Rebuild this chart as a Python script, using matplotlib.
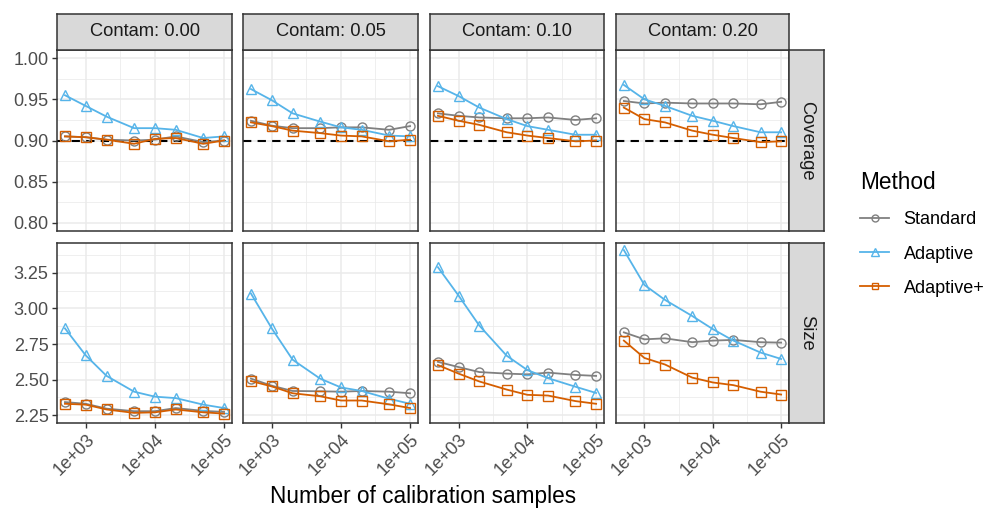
import matplotlib
matplotlib.use("Agg")
import matplotlib.pyplot as plt
from matplotlib.lines import Line2D
import numpy as np

plt.rcParams['font.family'] = ['Liberation Sans', 'DejaVu Sans']

n_samples = [500, 1000, 2000, 5000, 10000, 20000, 50000, 100000]
contam_labels = ['Contam: 0.00', 'Contam: 0.05', 'Contam: 0.10', 'Contam: 0.20']
row_labels = ['Coverage', 'Size']
methods = ['Standard', 'Adaptive', 'Adaptive+']

# coverage, one list per contamination level
cov_standard = [
    [0.905, 0.904, 0.901, 0.900, 0.901, 0.905, 0.898, 0.900],
    [0.924, 0.918, 0.915, 0.915, 0.916, 0.916, 0.913, 0.9175],
    [0.933, 0.930, 0.928, 0.927, 0.927, 0.928, 0.925, 0.927],
    [0.948, 0.945, 0.946, 0.945, 0.945, 0.945, 0.944, 0.947],
]
cov_adaptive = [
    [0.955, 0.942, 0.929, 0.915, 0.915, 0.913, 0.903, 0.905],
    [0.9625, 0.949, 0.933, 0.923, 0.916, 0.913, 0.906, 0.905],
    [0.966, 0.954, 0.940, 0.926, 0.9175, 0.913, 0.907, 0.907],
    [0.9675, 0.950, 0.942, 0.930, 0.924, 0.9175, 0.910, 0.910],
]
cov_adaptive_plus = [
    [0.905, 0.904, 0.901, 0.896, 0.902, 0.903, 0.896, 0.900],
    [0.922, 0.9175, 0.912, 0.909, 0.906, 0.905, 0.899, 0.901],
    [0.930, 0.924, 0.919, 0.910, 0.906, 0.903, 0.899, 0.900],
    [0.940, 0.926, 0.922, 0.912, 0.907, 0.903, 0.898, 0.899],
]

# set size, one list per contamination level
size_standard = [
    [2.342, 2.33, 2.296, 2.278, 2.278, 2.30, 2.28, 2.273],
    [2.507, 2.457, 2.42, 2.418, 2.415, 2.42, 2.415, 2.404],
    [2.625, 2.588, 2.553, 2.542, 2.537, 2.549, 2.533, 2.526],
    [2.832, 2.783, 2.79, 2.763, 2.774, 2.779, 2.763, 2.76],
]
size_adaptive = [
    [2.86, 2.67, 2.526, 2.415, 2.38, 2.37, 2.324, 2.30],
    [3.105, 2.86, 2.64, 2.507, 2.445, 2.42, 2.365, 2.33],
    [3.29, 3.09, 2.88, 2.668, 2.567, 2.51, 2.45, 2.406],
    [3.41, 3.165, 3.06, 2.947, 2.855, 2.774, 2.69, 2.645],
]
size_adaptive_plus = [
    [2.33, 2.324, 2.29, 2.266, 2.27, 2.29, 2.27, 2.261],
    [2.49, 2.452, 2.404, 2.383, 2.353, 2.353, 2.326, 2.30],
    [2.602, 2.542, 2.487, 2.43, 2.393, 2.388, 2.349, 2.33],
    [2.774, 2.652, 2.606, 2.514, 2.48, 2.461, 2.415, 2.395],
]

target_coverage = 0.90

colors = {'Standard': '#808080', 'Adaptive': '#56B4E9', 'Adaptive+': '#D55E00'}
markers = {'Standard': 'o', 'Adaptive': '^', 'Adaptive+': 's'}
msizes = {'Standard': 6.5, 'Adaptive': 7.5, 'Adaptive+': 6.5}

W, H = 988, 512
fig = plt.figure(figsize=(W / 100, H / 100), dpi=100)


def px_axes(x0, y0, x1, y1, **kw):
    return fig.add_axes([x0 / W, 1 - y1 / H, (x1 - x0) / W, (y1 - y0) / H], **kw)


col_x = [(57, 232), (243, 418), (430, 604), (616, 789)]
row_y = [(50, 231), (243, 423)]
ylims = [(0.79, 1.01), (2.195, 3.46)]
yticks = [[0.80, 0.85, 0.90, 0.95, 1.00], [2.25, 2.50, 2.75, 3.00, 3.25]]
yminor = [[0.825, 0.875, 0.925, 0.975], [2.375, 2.625, 2.875, 3.125, 3.375]]
xlim = (10 ** 2.584, 10 ** 5.115)

data = [
    [cov_standard, cov_adaptive, cov_adaptive_plus],
    [size_standard, size_adaptive, size_adaptive_plus],
]

border = '#333333'
tick_fs = 13
for r in range(2):
    for c in range(4):
        ax = px_axes(col_x[c][0], row_y[r][0], col_x[c][1], row_y[r][1])
        ax.set_xscale('log')
        ax.set_xlim(*xlim)
        ax.set_ylim(*ylims[r])
        ax.set_xticks([1e3, 1e4, 1e5])
        ax.set_xticks([10 ** 3.5, 10 ** 4.5], minor=True)
        ax.set_yticks(yticks[r])
        ax.set_yticks(yminor[r], minor=True)
        ax.grid(True, which='major', color='#EBEBEB', lw=1.1, zorder=0)
        ax.grid(True, which='minor', color='#EBEBEB', lw=0.55, zorder=0)
        ax.set_axisbelow(True)
        for s in ax.spines.values():
            s.set_color(border)
            s.set_linewidth(1.1)
        ax.tick_params(which='minor', length=0)
        ax.tick_params(which='major', color=border, length=3.5, width=1.0,
                       labelcolor='#4D4D4D', labelsize=tick_fs, pad=2.5)
        if c == 0:
            ax.set_yticklabels(['%.2f' % v for v in yticks[r]])
        else:
            ax.tick_params(axis='y', length=0, labelleft=False)
        if r == 1:
            ax.set_xticklabels(['1e+03', '1e+04', '1e+05'], rotation=45,
                               ha='right', va='top', rotation_mode='anchor')
        else:
            ax.tick_params(axis='x', length=0, labelbottom=False)
        if r == 0:
            ax.axhline(target_coverage, color='black', lw=1.5, ls=(0, (4, 3)), zorder=2)
        for m, series in zip(methods, data[r]):
            ax.plot(n_samples, series[c], color=colors[m], lw=1.3,
                    marker=markers[m], ms=msizes[m], mfc='none', mew=1.0,
                    zorder=3)

# top strips
for c in range(4):
    sax = px_axes(col_x[c][0], 14, col_x[c][1], 50)
    sax.set_facecolor('#D9D9D9')
    sax.set_xticks([])
    sax.set_yticks([])
    for s in sax.spines.values():
        s.set_color(border)
        s.set_linewidth(1.1)
    sax.text(0.5, 0.5, contam_labels[c], ha='center', va='center',
             fontsize=13.2, color='#1A1A1A', transform=sax.transAxes)

# right strips
for r in range(2):
    sax = px_axes(789, row_y[r][0], 824, row_y[r][1])
    sax.set_facecolor('#D9D9D9')
    sax.set_xticks([])
    sax.set_yticks([])
    for s in sax.spines.values():
        s.set_color(border)
        s.set_linewidth(1.1)
    sax.text(0.5, 0.5, row_labels[r], ha='center', va='center', rotation=-90,
             fontsize=13.2, color='#1A1A1A', transform=sax.transAxes)

fig.text(423 / W, 1 - 496 / H, 'Number of calibration samples', ha='center',
         va='center', fontsize=16.3, color='black')

handles = [Line2D([], [], color=colors[m], lw=1.3, marker=markers[m],
                  ms=msizes[m] - 1.5, mfc='none', mew=1.0) for m in methods]
fig.legend(handles, methods, loc='upper left',
           bbox_to_anchor=(844 / W, 1 - 155 / H), frameon=False,
           title='Method', title_fontsize=16.3, fontsize=13,
           labelspacing=0.95, handlelength=1.6, handletextpad=0.8,
           alignment='left')

fig.savefig('out.png', dpi=100)
